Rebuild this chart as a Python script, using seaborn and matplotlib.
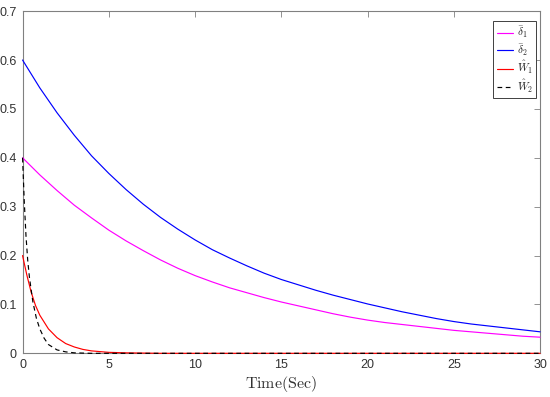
import numpy as np
import pandas as pd
import seaborn as sns
import matplotlib
matplotlib.use("Agg")
import matplotlib.pyplot as plt

# ---- data ----
t_slow = list(range(0, 31))
delta1 = [0.400, 0.365, 0.333, 0.303, 0.277, 0.252, 0.230, 0.210, 0.191, 0.174,
          0.159, 0.146, 0.134, 0.124, 0.114, 0.105, 0.097, 0.089, 0.081, 0.074,
          0.068, 0.063, 0.059, 0.055, 0.051, 0.047, 0.044, 0.041, 0.038, 0.035, 0.033]
delta2 = [0.600, 0.543, 0.492, 0.446, 0.404, 0.368, 0.335, 0.305, 0.278, 0.254,
          0.232, 0.212, 0.195, 0.179, 0.164, 0.151, 0.140, 0.129, 0.119, 0.110,
          0.101, 0.093, 0.085, 0.078, 0.071, 0.065, 0.060, 0.056, 0.052, 0.048, 0.044]

t_w1 = [0, 0.25, 0.5, 0.75, 1.0, 1.5, 2.0, 2.5, 3.0, 3.5, 4.0, 5.0, 6.0, 8.0, 30.0]
w1 = [0.200, 0.160, 0.125, 0.098, 0.078, 0.050, 0.032, 0.020, 0.013, 0.008, 0.005,
      0.002, 0.001, 0.0, 0.0]

t_w2 = [0, 0.1, 0.2, 0.3, 0.4, 0.5, 0.6, 0.8, 1.0, 1.25, 1.5, 2.0, 2.5, 3.0, 4.0, 30.0]
w2 = [0.400, 0.310, 0.240, 0.190, 0.155, 0.130, 0.105, 0.072, 0.050, 0.031, 0.018,
      0.007, 0.003, 0.001, 0.0, 0.0]

labels = [r'$\bar{\delta}_1$', r'$\bar{\delta}_2$', r'$\hat{W}_1$', r'$\hat{W}_2$']
x_ticks = [0, 5, 10, 15, 20, 25, 30]
y_ticks = [0, 0.1, 0.2, 0.3, 0.4, 0.5, 0.6, 0.7]

sns.set_theme(style="white")
plt.rcParams['font.family'] = ['Liberation Sans', 'DejaVu Sans']
plt.rcParams['mathtext.fontset'] = 'cm'

fig = plt.figure(figsize=(5.5, 3.97), dpi=100)
ax = fig.add_axes([0.041, 0.110, 0.941, 0.862])

df1 = pd.DataFrame({'t': t_slow, 'v': delta1})
df2 = pd.DataFrame({'t': t_slow, 'v': delta2})
df3 = pd.DataFrame({'t': t_w1, 'v': w1})
df4 = pd.DataFrame({'t': t_w2, 'v': w2})

lw = 0.85
sns.lineplot(data=df1, x='t', y='v', ax=ax, color='#FF00FF', lw=lw, label=labels[0])
sns.lineplot(data=df2, x='t', y='v', ax=ax, color='#0000FF', lw=lw, label=labels[1])
sns.lineplot(data=df3, x='t', y='v', ax=ax, color='#FF0000', lw=lw, label=labels[2])
sns.lineplot(data=df4, x='t', y='v', ax=ax, color='black', lw=lw, label=labels[3],
             linestyle=(0, (4, 3)))
for ln in ax.get_lines():
    ln.set_clip_on(False)
    ln.set_zorder(3)

ax.set_xlim(0, 30)
ax.set_ylim(0, 0.7)
ax.set_xticks(x_ticks)
ax.set_yticks(y_ticks)
ax.set_xticklabels([str(v) for v in x_ticks])
ax.set_yticklabels(['0', '0.1', '0.2', '0.3', '0.4', '0.5', '0.6', '0.7'])
ax.tick_params(direction='in', length=4, width=0.6, colors='#808080',
               labelcolor='#333333', labelsize=9, top=True, right=True,
               pad=4)
for s in ax.spines.values():
    s.set_color('#808080')
    s.set_linewidth(0.8)
    s.set_visible(True)

ax.set_xlabel(r'$\mathrm{Time(Sec)}$', fontsize=11.5, color='#333333', labelpad=2)
ax.set_ylabel('')

leg = ax.legend(loc='upper right', bbox_to_anchor=(0.993, 0.97), fontsize=8,
                handlelength=1.5, handletextpad=0.3, borderpad=0.3,
                borderaxespad=0.0, labelspacing=0.15, fancybox=False, framealpha=1)
leg.get_frame().set_edgecolor('#404040')
leg.get_frame().set_linewidth(0.7)
for h in leg.get_lines():
    h.set_linewidth(lw)

fig.savefig('out.png', dpi=100)
